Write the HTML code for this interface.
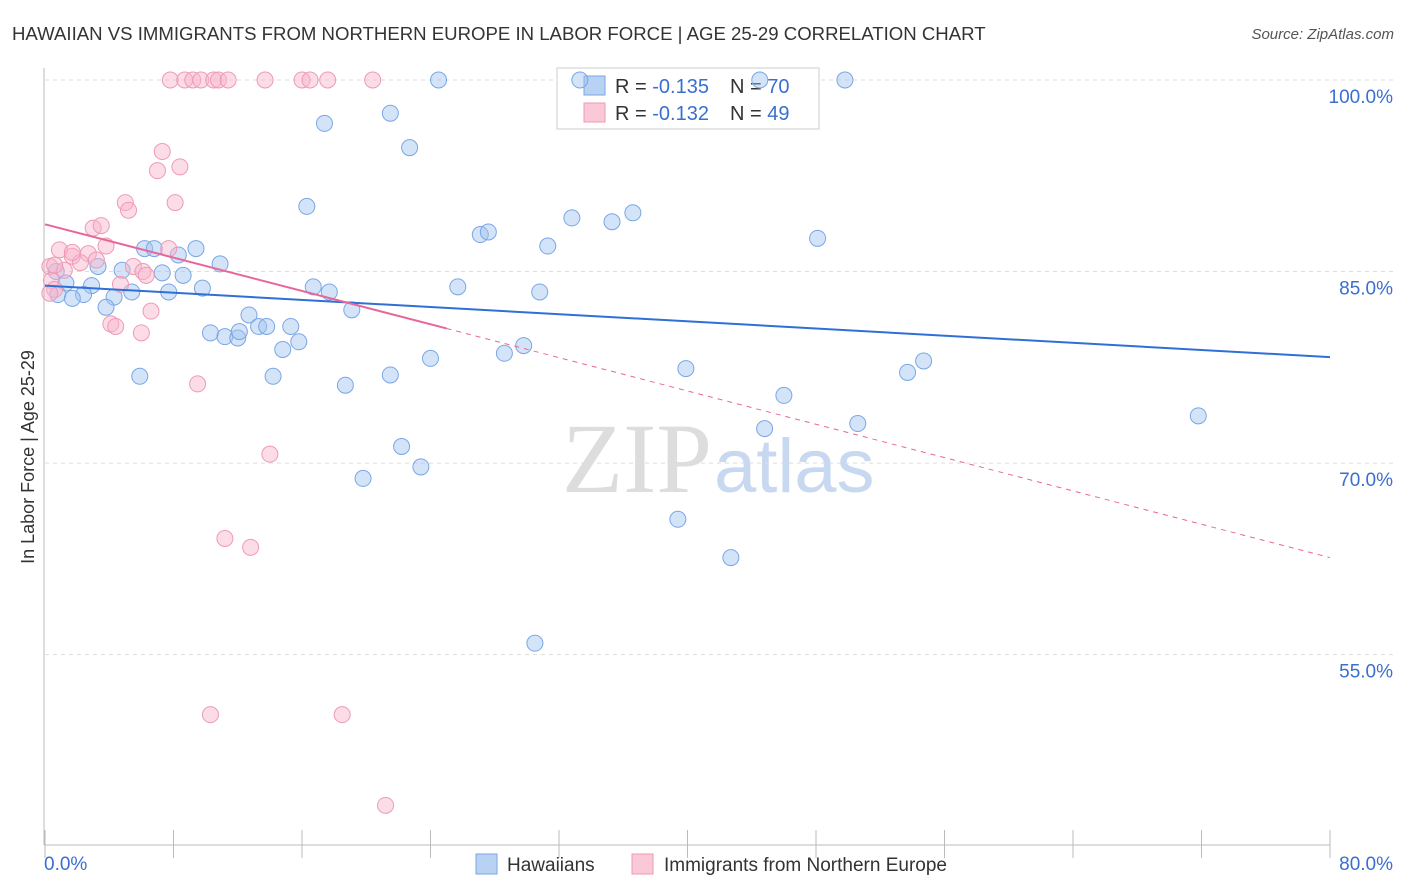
<!DOCTYPE html>
<html><head><meta charset="utf-8"><style>
body{margin:0;background:#fff;font-family:"Liberation Sans",sans-serif}
svg{display:block}
</style></head><body>
<svg id="chart" width="1406" height="892" xmlns="http://www.w3.org/2000/svg">
<text x="12" y="40" font-size="18.6" fill="#333">HAWAIIAN VS IMMIGRANTS FROM NORTHERN EUROPE IN LABOR FORCE | AGE 25-29 CORRELATION CHART</text>
<text x="1394" y="39" font-size="15" fill="#555" text-anchor="end" font-style="italic">Source: ZipAtlas.com</text>
<text transform="translate(34,457) rotate(-90)" font-size="18" fill="#333" text-anchor="middle">In Labor Force | Age 25-29</text>
<text x="712" y="492" font-size="100" fill="#ddd" text-anchor="end" font-family="Liberation Serif">ZIP</text>
<text x="714" y="492" font-size="76" fill="#c8d8f0">atlas</text>
<g id="grid"></g>
<g id="axes"></g>
<g>
<rect x="557" y="68" width="262" height="61" fill="#fff" stroke="#ccc"/>
<rect x="584" y="76" width="21" height="19" fill="#b8d2f4" stroke="#7aa6e6"/>
<rect x="584" y="103" width="21" height="19" fill="#fac8d6" stroke="#ee9ab5"/>
<text x="615" y="93" font-size="20" fill="#333">R = <tspan fill="#3a6fd0">-0.135</tspan></text>
<text x="730" y="93" font-size="20" fill="#333">N = <tspan fill="#3a6fd0">70</tspan></text>
<text x="615" y="120" font-size="20" fill="#333">R = <tspan fill="#3a6fd0">-0.132</tspan></text>
<text x="730" y="120" font-size="20" fill="#333">N = <tspan fill="#3a6fd0">49</tspan></text>
</g>
<g id="points"></g>
<g id="trends"></g>
<g>
<rect x="476" y="854" width="21" height="20" fill="#b8d2f4" stroke="#7aa6e6"/>
<text x="507" y="871" font-size="19" fill="#333">Hawaiians</text>
<rect x="632" y="854" width="21" height="20" fill="#fac8d6" stroke="#ee9ab5"/>
<text x="664" y="871" font-size="19" fill="#333">Immigrants from Northern Europe</text>
</g>
</svg>
<script>
const yTicks=[100,85,70,55];
const xTickLabels=["0.0%","80.0%"];
const blueX=[33.3,24.5,44.5,49.8,21.5,17.4,22.7,16.3,32.8,35.3,36.6,27.1,27.6,31.3,48.1,6.2,6.8,9.4,8.3,10.9,3.3,4.8,7.3,8.6,0.7,1.3,2.9,9.8,7.7,5.4,4.3,2.4,0.8,1.7,3.8,16.7,17.7,25.7,30.8,19.1,12.7,10.3,11.2,12.0,12.1,13.3,13.8,15.3,15.8,14.8,24.0,28.6,29.8,5.9,14.2,18.7,21.5,39.9,53.7,54.7,46.0,44.8,50.6,71.8,22.2,23.4,19.8,39.4,42.7,30.5];
const blueY=[100,100,100,100,97.4,96.6,94.7,90.1,89.2,88.9,89.6,87.9,88.1,87.0,87.6,86.8,86.8,86.8,86.3,85.6,85.4,85.1,84.9,84.7,85.0,84.1,83.9,83.7,83.4,83.4,83.0,83.2,83.2,82.9,82.2,83.8,83.4,83.8,83.4,82.0,81.6,80.2,79.9,79.8,80.3,80.7,80.7,80.7,79.5,78.9,78.2,78.6,79.2,76.8,76.8,76.1,76.9,77.4,77.1,78.0,75.3,72.7,73.1,73.7,71.3,69.7,68.8,65.6,62.6,55.9];
const pinkX=[7.8,8.7,9.2,9.7,10.5,10.8,11.4,13.7,16.0,16.5,17.6,20.4,7.3,8.4,7.0,8.1,5.0,5.2,3.0,3.5,3.8,0.9,2.7,1.7,3.2,2.2,7.7,5.5,6.1,6.3,1.2,0.3,0.6,0.4,0.6,4.7,6.6,4.1,4.4,6.0,9.5,14.0,11.2,12.8,10.3,18.5,21.2,0.3,1.7];
const pinkY=[100,100,100,100,100,100,100,100,100,100,100,100,94.4,93.2,92.9,90.4,90.4,89.8,88.4,88.6,87.0,86.7,86.4,86.2,85.9,85.7,86.8,85.4,85.0,84.7,85.1,85.4,85.5,84.3,83.6,84.0,81.9,80.9,80.7,80.2,76.2,70.7,64.1,63.4,50.3,50.3,43.2,83.3,86.5];
const blueTrend=[83.9,78.3];
const pinkTrend=[88.7,62.6];
const pinkSolidEnd=25;
const NS="http://www.w3.org/2000/svg";
const sx=v=>45+v*(1285/80);
const sy=v=>80+(100-v)*12.77;
function mk(tag,attrs,parent){const e=document.createElementNS(NS,tag);for(const k in attrs)e.setAttribute(k,attrs[k]);document.getElementById(parent).appendChild(e);return e;}
yTicks.forEach(t=>{
 const l=mk('line',{x1:45,x2:1393,y1:sy(t),y2:sy(t),stroke:'#ddd','stroke-dasharray':'4,4'},'grid');
 
 
 const tx=mk('text',{x:1393,y:sy(t)+23,'font-size':19,fill:'#3a6fd0','text-anchor':'end'},'grid');
 tx.textContent=t.toFixed(1)+'%';
 
 
});
const ax=mk('line',{x1:44,x2:44,y1:68,y2:845,stroke:'#bbb'},'axes');


const bx=mk('line',{x1:44,x2:1330,y1:845,y2:845,stroke:'#bbb'},'axes');


for(let i=0;i<=10;i++){const x=sx(i*8);const t=mk('line',{x1:x,x2:x,y1:830,y2:858,stroke:'#bbb'},'axes');
 
 }
[[0,'start',44],[80,'end',1393]].forEach((d,i)=>{const t=mk('text',{x:d[2],y:870,'font-size':19,fill:'#3a6fd0','text-anchor':d[1]},'axes');t.textContent=xTickLabels[i];
 
 });
function pts(xs,ys,fill,stroke,name){xs.forEach((x,i)=>{const c=mk('circle',{cx:sx(x),cy:sy(ys[i]),r:8,fill:fill,stroke:stroke,'stroke-width':1},'points');
 
 });}
pts(blueX,blueY,'rgba(160,195,240,0.45)','#7aa6e6','hawaiian-point');
pts(pinkX,pinkY,'rgba(248,180,202,0.45)','#ee9ab5','immigrant-point');
const bl=mk('line',{x1:sx(0),y1:sy(blueTrend[0]),x2:sx(80),y2:sy(blueTrend[1]),stroke:'#2f6fd6','stroke-width':2},'trends');


const pAt=x=>pinkTrend[0]+(pinkTrend[1]-pinkTrend[0])*x/80;
const pl=mk('line',{x1:sx(0),y1:sy(pAt(0)),x2:sx(pinkSolidEnd),y2:sy(pAt(pinkSolidEnd)),stroke:'#e8679a','stroke-width':2},'trends');


const pd=mk('line',{x1:sx(pinkSolidEnd),y1:sy(pAt(pinkSolidEnd)),x2:sx(80),y2:sy(pAt(80)),stroke:'#e8679a','stroke-width':1,'stroke-dasharray':'5,5'},'trends');


</script>
</body></html>
